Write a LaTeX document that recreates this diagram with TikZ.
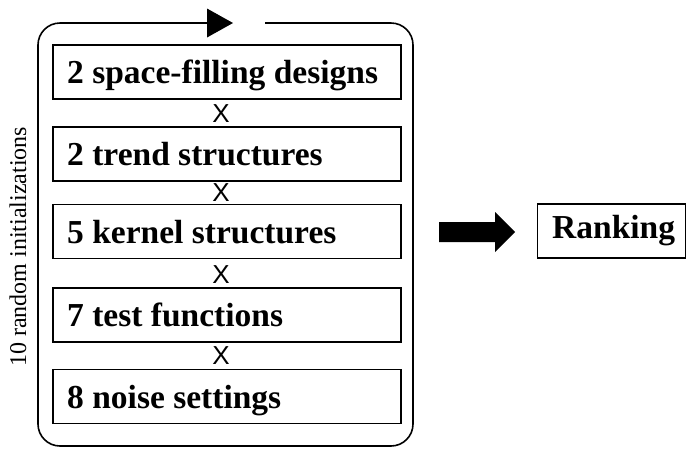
\documentclass[tikz,border=0pt]{standalone}
\usepackage{fontspec}
\setmainfont{Liberation Serif}
\newfontfamily\xfont{Liberation Sans}
\begin{document}
\begin{tikzpicture}[x=1pt,y=-1pt,
  boxst/.style={draw,line width=1.6pt,minimum width=348pt,minimum height=54pt,inner sep=0pt},
  lbl/.style={anchor=base west,font=\bfseries\fontsize{33.5}{40}\selectfont,inner sep=0pt},
  timesx/.style={font=\xfont\fontsize{26}{30}\selectfont,inner sep=0pt},
  outer/.style={line width=1.6pt,rounded corners=22pt}]
\useasboundingbox (0,0) rectangle (687,448);
% boxes
\node[boxst] (b1) at (227,72) {};
\node[boxst] (b2) at (227,154) {};
\node[boxst] (b3) at (227,231.5) {};
\node[boxst] (b4) at (227,315) {};
\node[boxst] (b5) at (227,396.5) {};
\node[lbl] (t1) at (67,83.5) {2 space-filling designs};
\node[lbl] (t2) at (67,165.5) {2 trend structures};
\node[lbl] (t3) at (67,243) {5 kernel structures};
\node[lbl] (t4) at (67,326.5) {7 test functions};
\node[lbl] (t5) at (67,408) {8 noise settings};
\node[timesx] (x1) at (221,114) {X};
\node[timesx] (x2) at (221,193) {X};
\node[timesx] (x3) at (221,275) {X};
\node[timesx] (x4) at (221,356) {X};
% outer loop
\coordinate (gapL) at (207,23);
\coordinate (gapR) at (265,23);
\draw[outer] (gapR) -- (413,23) -- (413,446) -- (38,446) -- (38,23) -- (gapL);
\fill (207,8.5) -- (233,23) -- (207,37.5) -- cycle;
% side label
\node[rotate=90,font=\fontsize{24}{28}\selectfont,inner sep=0pt] (side) at (18,247) {10 random initializations};
% fat arrow
\fill (439,222) -- (495,222) -- (495,212) -- (515,232) -- (495,252) -- (495,242) -- (439,242) -- cycle;
% ranking
\node[draw,line width=1.6pt,minimum width=148pt,minimum height=54pt,inner sep=0pt] (rank) at (611.5,231) {};
\node[lbl] (rt) at (552,238) {Ranking};
\end{tikzpicture}
\end{document}
